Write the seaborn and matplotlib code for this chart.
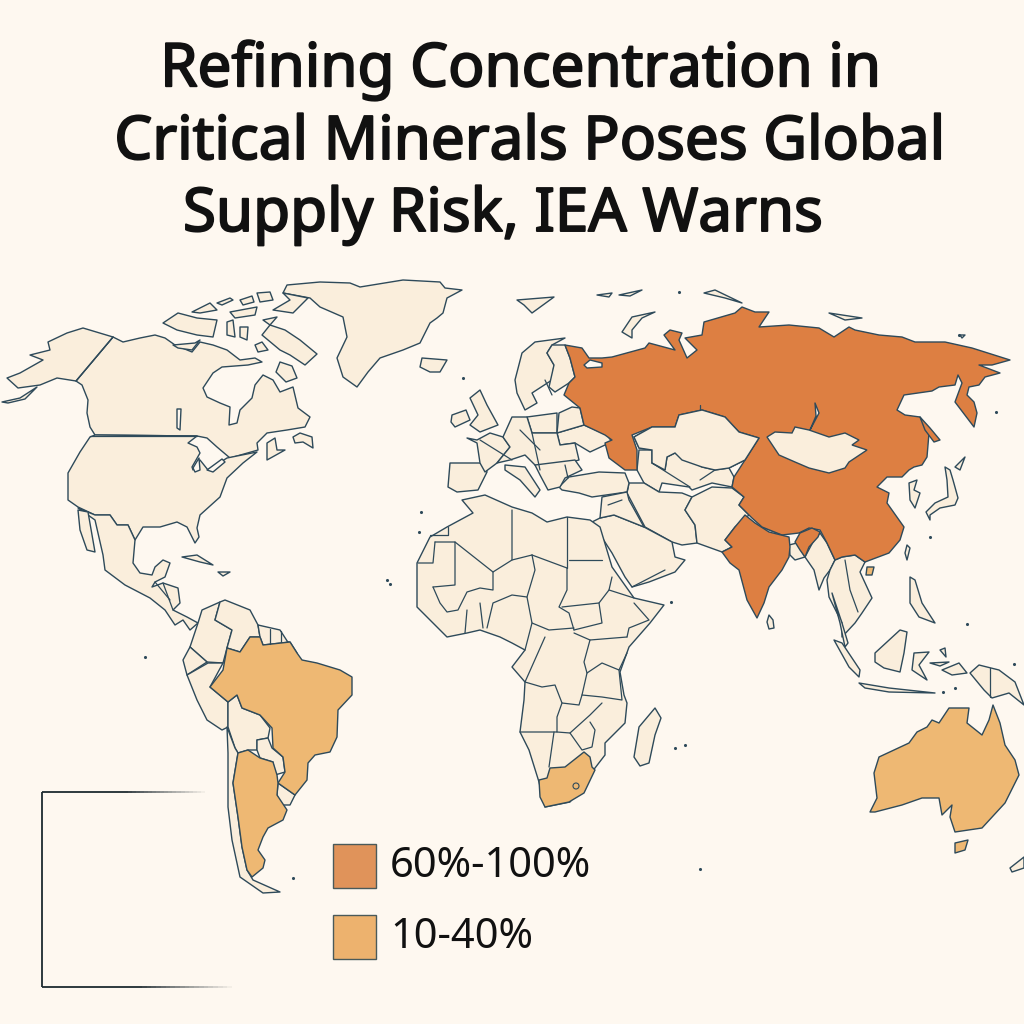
#!/usr/bin/env python3
import matplotlib
matplotlib.use('Agg')

import numpy as np
import pandas as pd
import matplotlib.pyplot as plt
import matplotlib.patheffects as pe
from matplotlib.patches import Rectangle
import seaborn as sns

# Outlines, in map pixels (x right, y down)
title_lines = ['Refining Concentration in', 'Critical Minerals Poses Global', 'Supply Risk, IEA Warns']
legend_labels = ['60%-100%', '10-40%']

# --- top tier ---
russia_china = [(565,345),(582,348),(589,358),(602,358),(612,357),(645,348),(649,343),(675,350),(664,335),(670,330),(682,333),(679,340),(687,358),(697,350),(685,338),(702,335),(704,322),(735,313),(742,307),(755,312),(769,312),(759,327),(789,325),(819,328),(834,337),(849,327),(855,330),(879,335),(902,337),(915,342),(945,342),(972,348),(1010,360),(992,365),(979,365),(1000,373),(985,377),(979,385),(969,387),(967,395),(974,402),(977,413),(974,427),(955,402),(962,383),(958,375),(955,385),(939,387),(932,391),(904,395),(897,410),(905,415),(920,417),(929,433),(927,457),(922,465),(914,467),(909,470),(902,477),(887,477),(877,487),(889,493),(887,503),(904,527),(900,540),(889,553),(865,562),(855,555),(842,557),(835,560),(827,543),(820,530),(809,528),(799,533),(782,535),(762,527),(752,518),(739,505),(744,497),(732,487),(734,477),(745,460),(759,438),(739,432),(725,417),(712,413),(702,410),(679,415),(675,427),(652,427),(632,435),(637,450),(637,470),(625,470),(609,458),(605,443),(612,440),(605,435),(584,425),(580,408),(564,395),(569,383),(575,377),(570,358)]
sakhalin = [(920,417),(930,428),(940,440),(934,442),(925,430)]
india = [(745,515),(755,523),(769,532),(789,537),(790,547),(789,557),(782,570),(769,587),(764,603),(757,618),(747,600),(739,570),(730,563),(722,552),(732,547),(725,540),(735,527)]
india_ne = [(800,533),(812,528),(820,532),(818,537),(809,547),(805,557),(800,550),(795,542)]
top_tier = [russia_china, sakhalin, india, india_ne]

# --- middle tier ---
brazil = [(227,648),(240,652),(250,637),(260,637),(263,645),(290,642),(297,653),(302,660),(317,663),(340,670),(352,677),(352,695),(338,710),(337,737),(330,752),(315,755),(308,763),(307,780),(295,795),(278,783),(285,772),(283,757),(273,748),(272,728),(260,715),(242,708),(237,695),(228,702),(210,687),(223,670)]
argentina = [(238,753),(248,750),(260,758),(273,762),(277,775),(278,783),(277,795),(287,810),(283,820),(268,828),(263,837),(258,850),(265,860),(263,868),(252,877),(247,870),(242,847),(238,817),(233,783)]
south_africa = [(539,780),(547,778),(550,768),(565,767),(584,752),(590,757),(592,767),(595,770),(584,793),(569,802),(545,807),(540,797)]
australia = [(870,812),(877,798),(874,773),(879,757),(909,743),(917,732),(927,727),(932,720),(939,723),(949,708),(969,708),(967,723),(982,735),(989,720),(993,705),(1000,723),(1005,745),(1015,760),(1019,775),(1005,803),(982,828),(955,832),(950,817),(952,805),(942,815),(939,798),(922,798),(902,805),(875,812)]
tasmania = [(955,853),(955,843),(968,840),(965,850)]
hainan = [(867,567),(874,567),(872,575),(866,575)]
mid_tier = [brazil, argentina, south_africa, australia, tasmania, hainan]

# --- everything else ---
canada = [(113,337),(123,342),(140,338),(155,335),(165,338),(175,345),(192,352),(200,342),(213,345),(227,350),(240,360),(255,358),(262,362),(248,365),(222,367),(213,373),(203,388),(207,397),(220,403),(230,407),(229,425),(237,423),(240,410),(252,398),(255,385),(263,375),(273,380),(280,392),(293,387),(298,408),(310,417),(305,427),(287,430),(267,433),(257,443),(258,450),(230,458),(217,447),(207,438),(197,436),(95,435),(90,427),(87,413),(88,400),(82,385),(76,381)]
alaska = [(113,337),(83,328),(67,333),(48,342),(50,350),(30,355),(43,360),(20,373),(7,378),(18,388),(40,385),(57,378),(76,381)]
alaska_tail = [(37,387),(20,398),(2,402),(8,403),(25,399)]
usa = [(95,435),(197,436),(188,443),(197,447),(200,453),(192,467),(193,470),(200,460),(208,470),(227,458),(257,452),(243,463),(227,478),(220,497),(200,515),(197,528),(199,537),(195,543),(187,527),(177,522),(160,527),(143,527),(135,540),(128,525),(117,525),(110,515),(95,515),(78,507),(68,500),(68,473),(80,452),(90,437)]
mexico = [(78,508),(95,515),(110,515),(117,525),(128,525),(135,540),(133,563),(140,573),(152,575),(155,567),(163,560),(170,563),(165,577),(155,582),(152,587),(163,583),(178,588),(180,603),(173,610),(187,617),(198,623),(190,630),(183,620),(175,625),(165,610),(150,598),(125,585),(105,570),(103,555),(95,520)]
baja = [(78,510),(88,512),(95,552),(87,550),(80,530)]
greenland = [(310,298),(283,293),(287,285),(320,282),(350,283),(360,287),(403,280),(440,282),(445,288),(462,290),(447,298),(443,313),(437,318),(430,323),(424,335),(420,343),(403,350),(380,358),(368,372),(357,387),(343,377),(337,358),(347,337),(343,317),(320,307)]
arctic_islands = [
    [(262,335),(270,325),(285,330),(300,340),(317,354),(305,365),(290,355),(280,350)],
    [(163,323),(178,313),(197,318),(217,320),(213,337),(197,335),(177,330)],
    [(283,293),(308,298),(293,313),(273,310),(290,300)],
    [(192,312),(210,303),(217,310),(200,313)],
    [(217,303),(230,298),(233,300),(222,305)],
    [(230,312),(257,307),(255,315),(235,318)],
    [(227,322),(233,320),(235,337),(227,335)],
    [(240,327),(248,327),(247,340),(240,337)],
    [(263,320),(277,317),(270,325)],
    [(257,293),(270,292),(273,300),(260,302)],
    [(173,345),(195,343),(200,340),(192,350),(178,348)],
    [(280,362),(292,366),(297,378),(286,382),(276,372)],
    [(255,345),(262,342),(268,350),(258,352)],
    [(240,300),(252,296),(254,302),(243,305)],
]
atlantic_islands = [
    [(293,437),(300,433),(312,437),(313,448),(303,442),(295,443)],
    [(267,443),(275,438),(277,450),(285,450),(267,460)],
    [(422,358),(447,360),(440,372),(430,372),(420,367)],
    [(182,557),(197,555),(213,565),(200,562)],
    [(218,572),(230,572),(223,576)],
    [(470,398),(480,390),(487,405),(498,425),(480,432),(470,425),(478,415)],
    [(452,415),(466,410),(470,420),(455,427),(451,422)],
]
mongolia = [(767,437),(775,432),(792,433),(795,427),(809,430),(829,437),(845,433),(859,440),(852,445),(867,450),(849,462),(845,468),(829,473),(809,468),(795,462),(779,455)]
kazakhstan = [(634,437),(652,427),(675,427),(679,415),(702,410),(725,417),(739,432),(759,438),(745,460),(729,468),(715,470),(702,467),(682,460),(675,453),(667,457),(665,470),(652,463),(652,450),(639,448)]
stans = [(639,450),(652,450),(652,463),(665,470),(667,457),(675,453),(702,467),(715,470),(729,468),(734,477),(732,487),(712,483),(692,490),(689,487),(662,483),(659,492),(644,483),(637,470)]
iran = [(629,483),(644,483),(659,492),(682,493),(692,497),(685,510),(695,525),(697,543),(682,545),(672,542),(645,527),(627,493)]
afghan_pakistan = [(692,497),(712,487),(732,488),(744,497),(739,505),(749,515),(735,527),(725,540),(732,547),(722,552),(697,543),(695,525),(685,510)]
turkey = [(569,477),(599,472),(625,473),(629,483),(627,492),(592,497),(579,493),(562,490),(559,487)]
arabia = [(600,518),(614,515),(644,527),(672,542),(675,557),(685,560),(675,572),(649,582),(632,587),(625,577),(612,553),(592,522)]
iraq_syria = [(602,497),(627,492),(629,500),(644,527),(614,515),(600,518)]
nepal = [(762,527),(782,535),(779,538),(762,531)]
europe = [
    [(557,433),(584,425),(607,435),(612,442),(605,445),(590,452),(575,443),(560,445)],
    [(527,417),(557,413),(557,433),(532,433)],
    [(559,413),(572,407),(580,408),(584,425),(557,433)],
    [(522,353),(535,342),(565,338),(552,345),(547,353),(554,365),(552,380),(532,393),(537,403),(525,410),(517,393),(515,380)],
    [(552,345),(565,345),(570,358),(575,377),(569,383),(555,392),(549,387),(554,365),(547,353)],
    [(450,463),(485,463),(487,472),(478,490),(457,492),(448,487)],
    [(467,438),(477,440),(490,433),(503,437),(510,447),(497,463),(485,472),(480,463),(477,443)],
    [(512,417),(527,417),(532,433),(557,433),(560,445),(575,443),(579,460),(560,465),(540,470),(525,455),(510,460),(497,463),(510,447),(503,437)],
    [(505,465),(525,467),(540,490),(535,497),(520,480),(505,470)],
    [(535,465),(575,460),(582,470),(565,478),(560,487),(548,490),(540,475)],
]
white_sea = [(584,365),(590,360),(602,363),(602,367),(587,368)]
africa = [(462,500),(485,495),(512,507),(532,513),(547,522),(567,517),(590,520),(600,527),(612,567),(634,598),(664,605),(650,623),(629,647),(620,672),(624,695),(627,703),(625,723),(605,743),(605,755),(595,768),(570,802),(545,807),(539,782),(529,750),(520,732),(524,700),(525,682),(512,667),(525,650),(512,643),(500,637),(480,630),(467,633),(447,637),(417,607),(417,563),(430,537),(447,527),(473,513)]
madagascar = [(655,708),(661,718),(655,735),(649,763),(640,766),(634,757),(639,727)]
colombia = [(198,623),(202,610),(220,602),(215,620),(232,630),(227,648),(223,663),(207,662),(190,647)]
venezuela = [(220,602),(225,600),(250,610),(258,625),(260,637),(250,637),(240,652),(227,648),(232,630),(215,620)]
guianas = [(258,625),(280,630),(293,650),(297,653),(290,642),(263,645),(260,637)]
ecuador = [(183,660),(190,647),(207,662),(187,675)]
peru = [(187,675),(208,663),(223,663),(210,687),(228,702),(228,727),(222,730),(207,720),(197,700)]
bolivia = [(228,702),(237,695),(242,708),(260,715),(270,728),(268,738),(257,740),(257,750),(248,750),(238,753),(235,748),(228,727)]
paraguay = [(257,740),(268,738),(272,748),(283,757),(285,772),(275,775),(273,762),(260,758),(257,750)]
uruguay = [(278,783),(295,795),(290,805),(280,805),(277,795)]
chile = [(227,727),(235,748),(238,753),(233,783),(238,817),(242,847),(247,870),(253,880),(280,892),(263,893),(240,877),(232,840),(228,807),(228,753)]
asia_south_east = [
    [(805,557),(814,540),(820,533),(827,543),(835,560),(830,570),(824,578),(819,590),(814,570)],
    [(835,560),(842,557),(855,555),(865,562),(860,572),(872,598),(862,613),(855,623),(842,637),(842,623),(829,597),(827,580),(830,570)],
    [(832,593),(840,623),(845,647),(848,643),(842,623)],
    [(789,545),(797,543),(805,557),(795,560),(790,555)],
    [(909,483),(917,480),(914,490),(920,493),(915,508),(910,500)],
    [(945,467),(950,470),(953,480),(958,498),(955,505),(940,508),(930,515),(930,520),(926,512),(935,503),(948,497),(947,480)],
    [(955,467),(965,457),(960,470)],
    [(907,545),(910,548),(907,560),(905,553)],
    [(769,615),(773,620),(774,628),(769,629),(767,622)],
    [(875,653),(900,630),(907,632),(904,653),(900,672),(884,668),(875,662)],
    [(834,640),(842,643),(860,670),(859,677),(849,667)],
    [(859,683),(889,688),(935,693),(889,692),(865,688)],
    [(914,653),(929,652),(919,665),(927,680),(912,670)],
    [(910,577),(915,580),(922,603),(935,623),(919,617),(910,603)],
    [(970,673),(979,665),(999,670),(1015,682),(1024,705),(1009,693),(992,698),(984,690)],
    [(1010,868),(1024,857),(1024,868),(1012,872)],
    [(942,670),(959,663),(967,673),(952,675)],
    [(930,663),(949,662),(940,666)],
    [(940,650),(945,648),(946,657)],
]
far_north = [
    [(622,332),(632,317),(655,312),(642,318),(632,330),(632,338)],
    [(517,300),(554,297),(532,313),(524,305)],
    [(597,295),(612,293),(609,297)],
    [(619,295),(642,290),(630,296)],
    [(704,293),(715,290),(742,303),(725,298)],
    [(829,313),(862,318),(845,320)],
    [(965,335),(962,338),(960,335)],
]
# tiny ocean islands
specks = [(679,292),(463,378),(421,512),(419,532),(387,580),(390,584),(145,657),(675,748),(685,745),
          (700,869),(930,537),(996,412),(1014,664),(967,624),(671,602),(959,335),(293,878),(943,692),(955,688)]
plain_land = [canada, alaska, alaska_tail, usa, mexico, baja, greenland] + arctic_islands + atlantic_islands + [
    mongolia, kazakhstan, stans, iran, afghan_pakistan, turkey, arabia, iraq_syria, nepal] + europe + [
    africa, madagascar, colombia, venezuela, guianas, ecuador, peru, bolivia, paraguay, uruguay, chile] + asia_south_east + far_north

# lakes and cracks show the page colour
water = [white_sea,
         [(815,403),(819,413),(810,430),(816,416)],
         [(177,409),(181,409),(180,430),(177,428)],
         [(193,468),(199,458),(200,470),(195,472)],
         [(207,470),(222,459),(225,462),(213,472)]]

# country borders that are lines only
borders = [
    [(90,436),(197,436)],
    [(113,337),(76,381)],
    [(567,517),(567,568)], [(569,560),(602,560)], [(532,555),(567,568)],
    [(455,542),(493,572),(512,560),(512,510)], [(512,560),(532,555)],
    [(435,542),(455,542),(455,585),(433,587)], [(418,563),(433,563),(435,542)],
    [(448,527),(448,535),(430,535)],
    [(433,587),(440,603),(447,612),(458,610),(467,592),(480,588),(493,590),(493,572)],
    [(467,610),(465,633)], [(480,603),(483,628)], [(487,628),(493,603),(512,595),(527,597)],
    [(532,555),(535,570),(527,597),(532,623),(525,650)],
    [(567,568),(567,590),(559,607),(569,613),(574,630)],
    [(562,607),(599,603),(609,590),(612,577)], [(599,603),(602,623),(574,630)],
    [(609,590),(634,598)], [(634,603),(649,620),(629,628),(627,637)],
    [(532,623),(549,630),(574,628)],
    [(545,637),(525,682),(542,687),(555,685),(562,703),(579,705),(582,695),(587,673),(584,662),(590,640),(574,633)],
    [(590,640),(627,637)], [(627,653),(619,670),(602,663),(587,673)],
    [(619,670),(622,700),(602,697),(582,695)],
    [(562,703),(557,717),(557,732),(520,732)], [(554,732),(549,767)],
    [(557,732),(570,733),(590,715),(602,703)],
    [(570,733),(582,750),(592,747),(595,730),(590,722)],
    [(270,629),(270,644)], [(281,631),(281,642)],
    [(990,668),(990,697)],
    [(480,440),(512,460)], [(520,430),(540,450)], [(532,433),(540,470)],
    [(545,380),(552,395)], [(565,465),(568,478)],
    [(652,463),(690,487)], [(715,470),(700,480)], [(632,587),(665,570)],
    [(845,560),(850,590),(858,612)], [(155,582),(170,600)], [(163,583),(173,610)],
    [(608,505),(622,500)], [(700,405),(700,410)],
]

legend_colors = ['#E0935A', '#EDB26E']
hi_fill = '#DD7F42'
mid_fill = '#EEB873'
land_fill = '#FAEEDC'
page = '#FEF8F0'
ink = '#2E4A5A'

sns.set_theme(style="white")
plt.rcParams['font.family'] = ['Noto Sans', 'DejaVu Sans']

fig = plt.figure(figsize=(10.24, 10.24), dpi=100, facecolor=page)
ax = fig.add_axes([0, 0, 1, 1], facecolor=page)

for shapes, fill in [(plain_land, land_fill), (mid_tier, mid_fill), (top_tier, hi_fill), (water, page)]:
    for shape in shapes:
        xs, ys = zip(*shape)
        ax.fill(xs, ys, facecolor=fill, edgecolor=ink, linewidth=1.0, joinstyle='round')

# mongolia and kazakhstan sit on top of the big russia/china patch
for shape in (mongolia, kazakhstan):
    xs, ys = zip(*shape)
    ax.fill(xs, ys, facecolor=land_fill, edgecolor=ink, linewidth=1.0)

# borders through seaborn, one unit per polyline
rows = [(i, x, y) for i, line in enumerate(borders) for x, y in line]
border_df = pd.DataFrame(rows, columns=['line', 'x', 'y'])
sns.lineplot(data=border_df, x='x', y='y', units='line', estimator=None, sort=False,
             color=ink, linewidth=0.9, legend=False, ax=ax)

speck_df = pd.DataFrame(specks, columns=['x', 'y'])
sns.scatterplot(data=speck_df, x='x', y='y', s=5, color=ink, linewidth=0, legend=False, ax=ax)

ax.set_xlim(0, 1024)
ax.set_ylim(1024, 0)
ax.axis('off')

# lesotho
ax.add_patch(plt.Circle((576, 786), 3, facecolor=mid_fill, edgecolor=ink, linewidth=0.8))

# open frame bottom left, the arms fade out
ax.plot([42, 42], [792, 987], color='#1E2A30', linewidth=1.3, solid_capstyle='butt')
for y, x_end in [(792, 205), (987, 232)]:
    edges = np.linspace(42, x_end, 41)
    for k in range(40):
        fade = 1.0 if k < 20 else (40 - k) / 20
        ax.plot(edges[k:k + 2], [y, y], color='#1E2A30', alpha=fade, linewidth=1.3, solid_capstyle='butt')

# title, regular weight thickened with a stroke to get the semi-bold look
heavy = [pe.withStroke(linewidth=1.4, foreground='#111111')]
for line, x, y in zip(title_lines, [521, 530, 503], [70, 143, 215]):
    ax.text(x, y, line, ha='center', va='center', fontsize=43.3, color='#111111', path_effects=heavy)

# legend
for color, label, y0 in zip(legend_colors, legend_labels, [844, 915]):
    ax.add_patch(Rectangle((333, y0), 43, 44, facecolor=color, edgecolor='#4A5A5A', linewidth=1.0))
    ax.text(390, y0 + 22, label, ha='left', va='center', fontsize=30, color='#111111')

fig.savefig('out.png', dpi=100, facecolor=page)
